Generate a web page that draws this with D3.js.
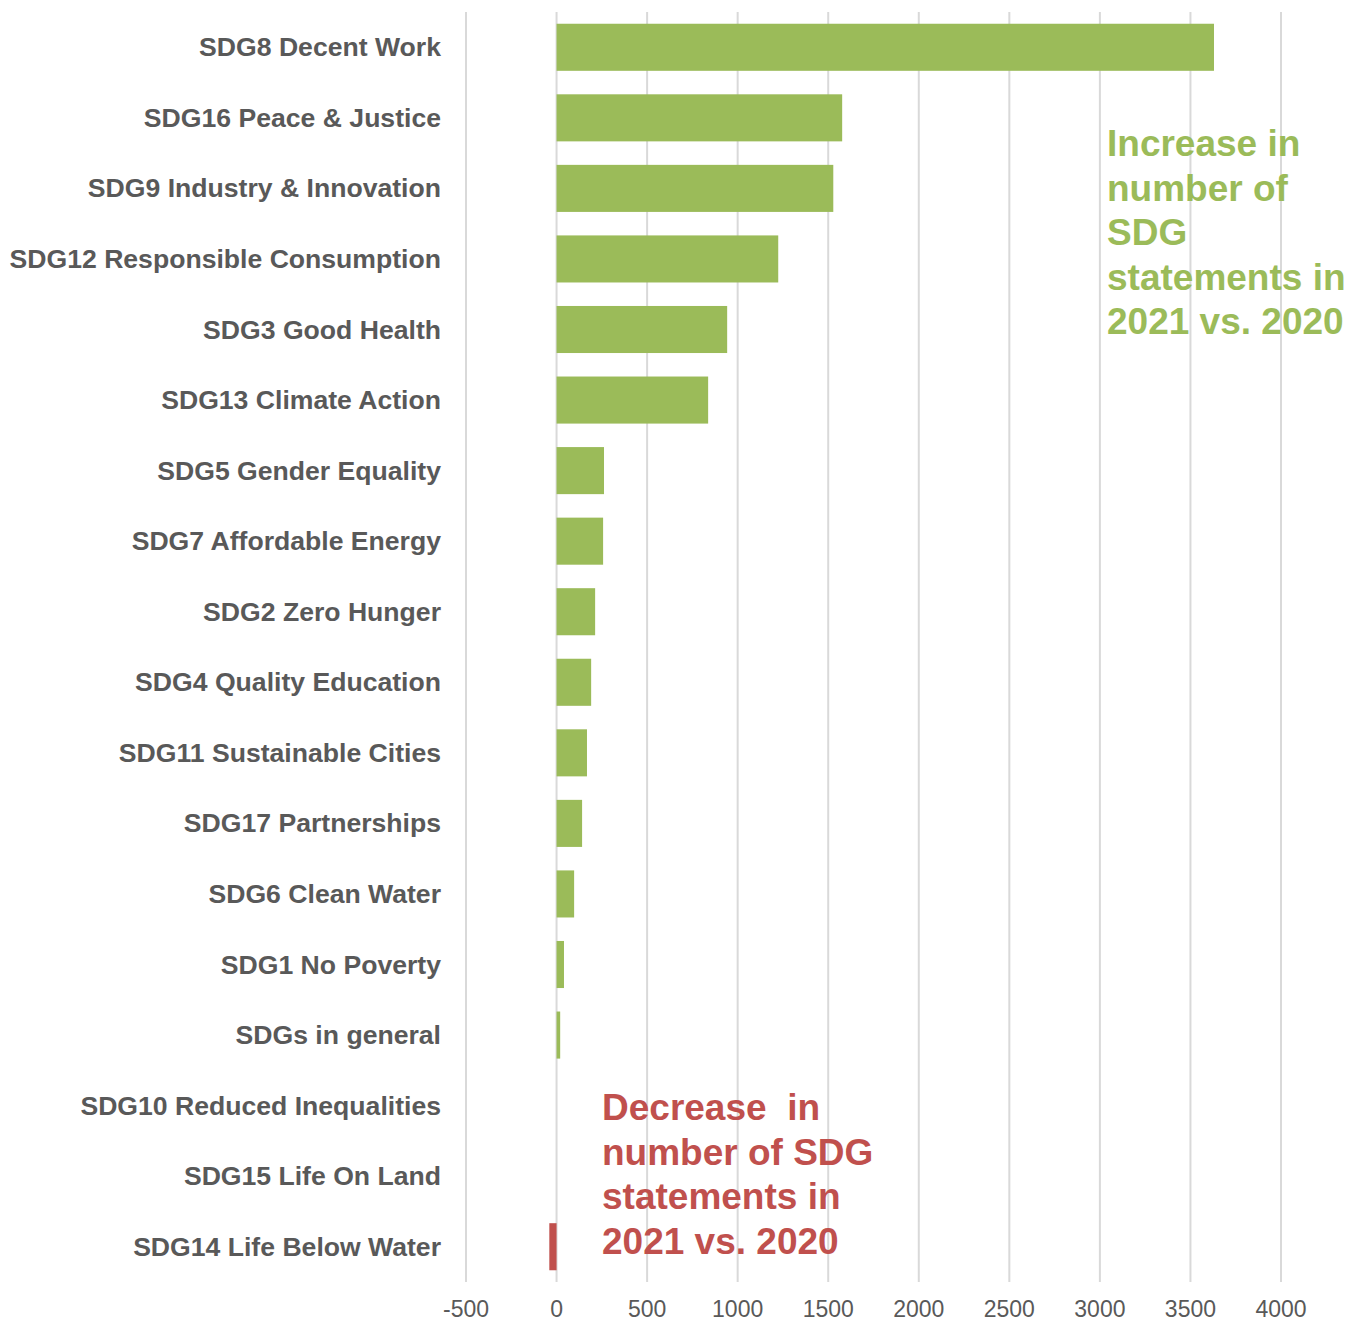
<!DOCTYPE html>
<html>
<head>
<meta charset="utf-8">
<script src="https://cdn.jsdelivr.net/npm/d3@7"></script>
<style>
  html, body { margin: 0; padding: 0; background: #fff; }
  svg { display: block; font-family: "Liberation Sans", Arial, sans-serif; }
</style>
</head>
<body>
<svg id="chart" width="1348" height="1322"></svg>
<script>
const categories = [
  "SDG8 Decent Work",
  "SDG16 Peace & Justice",
  "SDG9 Industry & Innovation",
  "SDG12 Responsible Consumption",
  "SDG3 Good Health",
  "SDG13 Climate Action",
  "SDG5 Gender Equality",
  "SDG7 Affordable Energy",
  "SDG2 Zero Hunger",
  "SDG4 Quality Education",
  "SDG11 Sustainable Cities",
  "SDG17 Partnerships",
  "SDG6 Clean Water",
  "SDG1 No Poverty",
  "SDGs in general",
  "SDG10 Reduced Inequalities",
  "SDG15 Life On Land",
  "SDG14 Life Below Water"
];
const values = [3630, 1577, 1528, 1224, 942, 837, 262, 257, 213, 191, 168, 141, 97, 41, 20, 0, 0, -40];
const tickValues = [-500, 0, 500, 1000, 1500, 2000, 2500, 3000, 3500, 4000];
const increaseNote = ["Increase in", "number of", "SDG", "statements in", "2021 vs. 2020"];
const decreaseNote = ["Decrease  in", "number of SDG", "statements in", "2021 vs. 2020"];

(function () {
const svg = d3.select("#chart");
const plotTop = 12, plotBottom = 1282, plotLeft = 466, plotRight = 1281;

const x = d3.scaleLinear().domain([-500, 4000]).range([plotLeft, plotRight]);
const y = d3.scaleBand().domain(categories).range([plotTop, plotBottom])
  .paddingInner(0.333).paddingOuter(0.1665);

// gridlines
svg.append("g").selectAll("line").data(tickValues).join("line")
  .attr("x1", d => x(d)).attr("x2", d => x(d))
  .attr("y1", plotTop).attr("y2", plotBottom)
  .attr("stroke", "#d9d9d9").attr("stroke-width", 2);

// tick labels
svg.append("g").selectAll("text").data(tickValues).join("text")
  .attr("x", d => x(d)).attr("y", 1317)
  .attr("text-anchor", "middle")
  .attr("font-size", 23)
  .attr("fill", "#595959")
  .text(d => d);

// bars
const data = categories.map((c, i) => ({ c, v: values[i] }));
svg.append("g").selectAll("rect").data(data).join("rect")
  .attr("x", d => x(Math.min(0, d.v)))
  .attr("width", d => Math.abs(x(d.v) - x(0)))
  .attr("y", d => y(d.c))
  .attr("height", y.bandwidth())
  .attr("fill", d => d.v < 0 ? "#C0504D" : "#9BBB59");

// category labels
svg.append("g").selectAll("text").data(categories).join("text")
  .attr("x", 441)
  .attr("y", d => y(d) + y.bandwidth() / 2)
  .attr("dy", "0.34em")
  .attr("text-anchor", "end")
  .attr("font-size", 26.6)
  .attr("font-weight", "bold")
  .attr("fill", "#595959")
  .text(d => d);

// annotations
const lh = 44.5;
svg.append("g").selectAll("text").data(increaseNote).join("text")
  .attr("x", 1107).attr("y", (d, i) => 156 + i * lh)
  .attr("font-size", 37).attr("font-weight", "bold")
  .attr("fill", "#9BBB59")
  .style("white-space", "pre")
  .text(d => d);

svg.append("g").selectAll("text").data(decreaseNote).join("text")
  .attr("x", 602).attr("y", (d, i) => 1120 + i * lh)
  .attr("font-size", 37).attr("font-weight", "bold")
  .attr("fill", "#C0504D")
  .style("white-space", "pre")
  .text(d => d);
})();
</script>
</body>
</html>
